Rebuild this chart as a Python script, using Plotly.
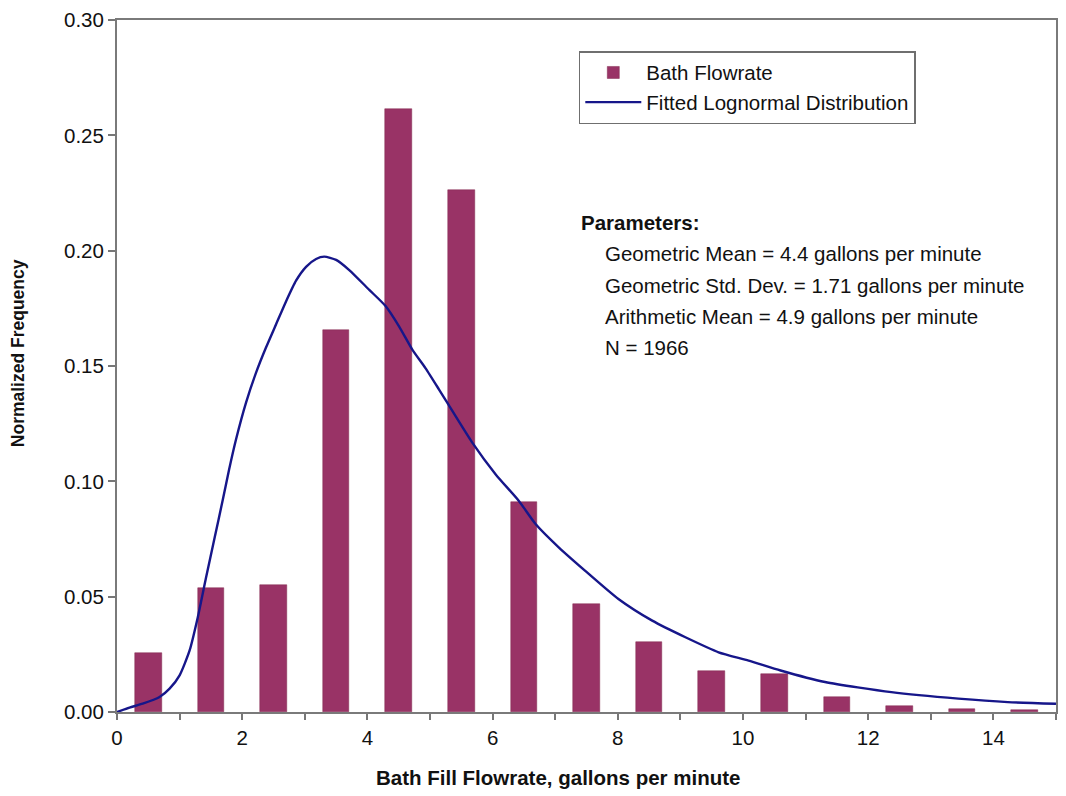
import plotly.graph_objects as go

# ---- data ----
bin_centers = [0.5, 1.5, 2.5, 3.5, 4.5, 5.5, 6.5, 7.5, 8.5, 9.5, 10.5, 11.5, 12.5, 13.5, 14.5]
bath_freq = [0.0257, 0.0538, 0.0551, 0.1657, 0.2615, 0.2265, 0.0912, 0.0468, 0.0302,
             0.0176, 0.0163, 0.0064, 0.0025, 0.0015, 0.0009]

fit_x = [0, 0.2, 0.41, 0.68, 0.84, 1.0, 1.16, 1.29, 1.42, 1.56, 1.69, 1.79, 1.90, 2.06,
         2.22, 2.38, 2.54, 2.70, 2.86, 3.02, 3.18, 3.31, 3.50, 3.71, 4.03, 4.29, 4.51,
         4.72, 4.93, 5.14, 5.30, 5.67, 6.05, 6.42, 6.69, 7.06, 7.48, 8.01, 8.55, 9.08,
         9.61, 10.09, 10.6, 11.31, 12.37, 13.44, 14.23, 15.0]
fit_y = [0, 0.0019, 0.0036, 0.0065, 0.0101, 0.0159, 0.0267, 0.041, 0.058, 0.0756, 0.092,
         0.105, 0.118, 0.134, 0.147, 0.158, 0.168, 0.178, 0.187, 0.193, 0.1964, 0.1974,
         0.196, 0.1916, 0.183, 0.176, 0.167, 0.157, 0.149, 0.140, 0.133, 0.117, 0.103,
         0.0915, 0.0814, 0.0713, 0.0612, 0.049, 0.0396, 0.0324, 0.0259, 0.0223, 0.018,
         0.0130, 0.0086, 0.0058, 0.0043, 0.0036]

x_tickvals = list(range(0, 16))
x_ticktext = ["0", "", "2", "", "4", "", "6", "", "8", "", "10", "", "12", "", "14", ""]
y_tickvals = [0.0, 0.05, 0.10, 0.15, 0.20, 0.25, 0.30]

x_title = "Bath Fill Flowrate, gallons per minute"
y_title = "Normalized Frequency"
param_title = "Parameters:"
param_lines = [
    "Geometric Mean = 4.4 gallons per minute",
    "Geometric Std. Dev. = 1.71 gallons per minute",
    "Arithmetic Mean = 4.9 gallons per minute",
    "N = 1966",
]

FONT = "Liberation Sans, Arial, Helvetica, sans-serif"
FS = 20.5

fig = go.Figure()
fig.add_trace(go.Bar(
    x=bin_centers, y=bath_freq, width=0.425, name="Bath Flowrate",
    marker=dict(color="#993366", line=dict(color="#80284f", width=0.5)),
))
fig.add_trace(go.Scatter(
    x=fit_x, y=fit_y, mode="lines", name="Fitted Lognormal Distribution",
    line=dict(color="#16168a", width=2.4, shape="spline", smoothing=0.6),
))

fig.update_layout(
    width=1066, height=796,
    margin=dict(l=117, r=8, t=17, b=84),
    paper_bgcolor="white", plot_bgcolor="white",
    font=dict(family=FONT, size=FS, color="#111"),
    showlegend=True,
    legend=dict(
        x=0.4918, y=0.955, xanchor="left", yanchor="top",
        bordercolor="#6f6f6f", borderwidth=1.5, bgcolor="white",
        font=dict(family=FONT, size=FS, color="#111"),
        tracegroupgap=0, itemwidth=56,
    ),
    bargap=0,
)

fig.update_xaxes(
    range=[0, 15], tickvals=x_tickvals, ticktext=x_ticktext,
    ticks="outside", ticklen=6, tickcolor="#777", tickwidth=1.5,
    showline=True, linecolor="#7a7a7a", linewidth=2, mirror=True,
    showgrid=False, zeroline=False,
    tickfont=dict(size=FS),
)
fig.update_yaxes(
    range=[0, 0.30], tickvals=y_tickvals, tickformat=".2f",
    ticks="outside", ticklen=7, tickcolor="#777", tickwidth=1.5,
    showline=True, linecolor="#7a7a7a", linewidth=2, mirror=True,
    showgrid=False, zeroline=False,
    tickfont=dict(size=FS),
)

# axis titles
fig.add_annotation(
    x=0.4705, y=-0.095, xref="paper", yref="paper", xanchor="center", yanchor="middle",
    text="<b>" + x_title + "</b>", showarrow=False, font=dict(size=20.5),
)
fig.add_annotation(
    x=-0.1058, y=0.518, xref="paper", yref="paper", xanchor="center", yanchor="middle",
    text="<b>" + y_title + "</b>", showarrow=False, textangle=-90, font=dict(size=17.5),
)

fig.add_annotation(
    x=0.4918, y=0.708, xref="paper", yref="paper", xanchor="left", yanchor="middle",
    text="<b>" + param_title + "</b>", showarrow=False, font=dict(size=FS),
)
param_y = [0.6623, 0.6168, 0.5712, 0.5266]
for txt, yy in zip(param_lines, param_y):
    fig.add_annotation(
        x=0.5176, y=yy, xref="paper", yref="paper", xanchor="left", yanchor="middle",
        text=txt, showarrow=False, font=dict(size=FS),
    )

fig.write_html("out.html")
